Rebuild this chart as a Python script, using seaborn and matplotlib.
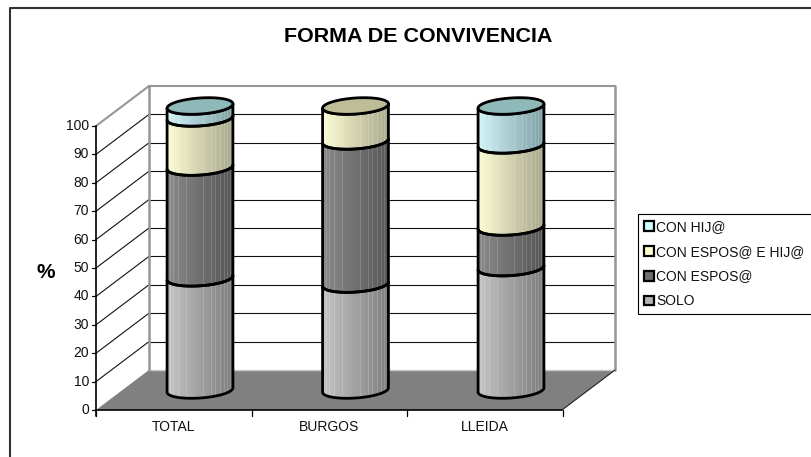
#!/usr/bin/env python

import numpy as np
import pandas as pd
import matplotlib
matplotlib.use("Agg")
import matplotlib.pyplot as plt
from matplotlib.patches import Patch, PathPatch, Polygon
from matplotlib.path import Path
import seaborn as sns

categories = ["TOTAL", "BURGOS", "LLEIDA"]
series_names = ["SOLO", "CON ESPOS@", "CON ESPOS@ E HIJ@", "CON HIJ@"]
solo = [39.5, 37.3, 43.1]
con_esposo = [39.0, 50.4, 14.3]
con_esposo_hijo = [17.3, 12.3, 28.9]
con_hijo = [4.2, 0.0, 13.7]
y_ticks = [0, 10, 20, 30, 40, 50, 60, 70, 80, 90, 100]

title = "FORMA DE CONVIVENCIA"

# left/right shade of each cylinder, then colour of the lid and legend swatch
light = ["#c4c4c4", "#8a8a8a", "#fcfcd4", "#d2f4f8"]
dark = ["#7e7e7e", "#565656", "#a8a88c", "#80a2a6"]
lid = ["#a0a0a0", "#6c6c6c", "#bdbd98", "#8fb8b8"]
swatch = ["#b4b4b4", "#6e6e6e", "#ffffcc", "#ccffff"]
streaks = [3, 6, 11, 19, 36, 44, 48, 53, 57, 60, 63]

W, H = 811, 457
CAT_PX = 155.5
VAL_PX = 2.84
X0, Y0 = 200, 390
DEPTH_X, DEPTH_Y = 26.5, 20
BAR_W = 66
A, B = 33, 8
TILT = np.radians(4)
LW = 2.0


def px(x, y):
	return (x - X0) / CAT_PX, (Y0 - y) / VAL_PX


def ellipse(xc, v, t):
	ex = A * np.cos(t)
	ey = B * np.sin(t)
	xx = ex * np.cos(TILT) - ey * np.sin(TILT)
	yy = ex * np.sin(TILT) + ey * np.cos(TILT)
	return np.column_stack([xc + xx / CAT_PX, v + yy / VAL_PX])


def segment_path(xc, v0, v1):
	t = np.linspace(np.pi, 2 * np.pi, 40)
	low = ellipse(xc, v0, t)
	up = ellipse(xc, v1, t)[::-1]
	pts = np.vstack([low, up, low[:1]])
	return Path(pts, closed=True)


def hexrgb(c):
	return np.array(matplotlib.colors.to_rgb(c))


def gradient(c_light, c_dark):
	r = np.linspace(0, 1, BAR_W)[:, None]
	img = hexrgb(c_light) * (1 - r) + hexrgb(c_dark) * r
	img[streaks] = img[streaks] + (1 - img[streaks]) * 0.16
	return img[None, :, :]


sns.set_style("white")
plt.rcParams["font.family"] = ["Liberation Sans", "DejaVu Sans"]

fig = plt.figure(figsize=(W / 100, H / 100), dpi=100)
ax = fig.add_axes([0, 0, 1, 1])

# walls and floor of the 3D box
fl, fr = 96, 562
bl, br = fl + 2 * DEPTH_X, fr + 2 * DEPTH_X
fb, bb = 410, 370
ax.add_patch(Polygon([px(fl, fb), px(fr, fb), px(br, bb), px(bl, bb)], closed=True, fc="#808080", ec="none", zorder=1))
for v in y_ticks:
	yb = bb - v * VAL_PX
	yf = fb - v * VAL_PX
	gcol = "#969696" if v == 100 else "#111111"
	glw = 1.5 if v == 100 else 0.8
	if v > 0:
		ax.plot(*zip(px(bl, yb), px(br, yb)), color=gcol, lw=glw, zorder=1)
		ax.plot(*zip(px(fl, yf), px(bl, yb)), color=gcol, lw=glw, zorder=1)
	ax.plot(*zip(px(fl - 4, yf), px(fl, yf)), color="black", lw=0.9, zorder=2)
	ax.text(*px(fl - 7, yf), str(v), ha="right", va="center", fontsize=10, color="#111111")
ax.plot(*zip(px(bl, bb), px(br, bb)), color="#c8c8c8", lw=1, zorder=2)
ax.plot(*zip(px(bl, bb), px(bl, bb - 100 * VAL_PX)), color="#969696", lw=1.8, zorder=2)
ax.plot(*zip(px(br, bb), px(br, bb - 100 * VAL_PX)), color="#969696", lw=1.8, zorder=2)
ax.plot(*zip(px(fr, fb), px(br, bb)), color="#222222", lw=0.8, zorder=2)
ax.plot(*zip(px(fl, fb), px(fr, fb)), color="black", lw=1.2, zorder=2)
ax.plot(*zip(px(fl, fb - 100 * VAL_PX), px(fl, fb + 6)), color="black", lw=1.2, zorder=2)
for i in range(len(categories) + 1):
	xt = fl + i * CAT_PX
	ax.plot(*zip(px(xt, fb), px(xt, fb + 6)), color="black", lw=0.9, zorder=2)
for i, c in enumerate(categories):
	ax.text(*px(fl + (i + 0.5) * CAT_PX, 427), c, ha="center", va="center", fontsize=10, color="#111111")

# stacked bars through seaborn, then turned into cylinders
values = [solo, con_esposo, con_esposo_hijo, con_hijo]
bottom = np.zeros(len(categories))
bars = []
for name, vals, col in zip(series_names, values, swatch):
	df = pd.DataFrame({"grupo": categories, "pct": vals})
	n0 = len(ax.patches)
	sns.barplot(data=df, x="grupo", y="pct", color=col, width=BAR_W / CAT_PX, bottom=bottom, ax=ax, errorbar=None, zorder=0)
	bars.append(ax.patches[n0:])
	bottom = bottom + np.array(vals)

for k, row in enumerate(bars):
	for bar in row:
		bar.set_visible(False)
		if bar.get_height() <= 0:
			continue
		xc = bar.get_x() + bar.get_width() / 2
		v0, v1 = bar.get_y(), bar.get_y() + bar.get_height()
		seg = segment_path(xc, v0, v1)
		im = ax.imshow(gradient(light[k], dark[k]), aspect="auto", interpolation="nearest",
			extent=[xc - BAR_W / 2 / CAT_PX, xc + BAR_W / 2 / CAT_PX, v0 - 5, v1 + 5], zorder=3)
		im.set_clip_path(seg, transform=ax.transData)
		ax.add_patch(PathPatch(seg, fc="none", ec="black", lw=LW, zorder=4, joinstyle="round"))
		# last segment of this cylinder gets the lid
		i = int(round(xc))
		if k == len(bars) - 1 or all(values[j][i] == 0 for j in range(k + 1, len(values))):
			ax.add_patch(Polygon(ellipse(xc, v1, np.linspace(0, 2 * np.pi, 80)), closed=True, fc=lid[k], ec="black", lw=LW, zorder=5))

# chart border, only left and top show in the picture
ax.plot(*zip(px(10, H), px(10, 8), px(W, 8)), color="#333333", lw=1.5, zorder=6, clip_on=False)

ax.text(*px(418, 36), title, ha="center", va="center", fontsize=15.45, fontweight="bold", color="black")
ax.text(*px(46, 272), "%", ha="center", va="center", fontsize=15, fontweight="bold", color="black")

handles = [Patch(fc=swatch[k], ec="black", lw=1.6, label=series_names[k]) for k in range(3, -1, -1)]
leg = ax.legend(handles=handles, loc="upper left", bbox_to_anchor=(638 / W, 1 - 313 / H, 190 / W, 99 / H),
	bbox_transform=fig.transFigure, mode="expand", borderaxespad=0, fontsize=10, handlelength=0.72, handleheight=0.72,
	handletextpad=0.16, labelspacing=0.78, borderpad=0.42, frameon=True, fancybox=False, edgecolor="black", framealpha=1)
leg.get_frame().set_linewidth(0.8)
for t in leg.get_texts():
	t.set_color("#111111")

ax.set_xlim((0 - X0) / CAT_PX, (W - X0) / CAT_PX)
ax.set_ylim((Y0 - H) / VAL_PX, Y0 / VAL_PX)
ax.set_axis_off()

fig.savefig("out.png", dpi=100, facecolor="white")
